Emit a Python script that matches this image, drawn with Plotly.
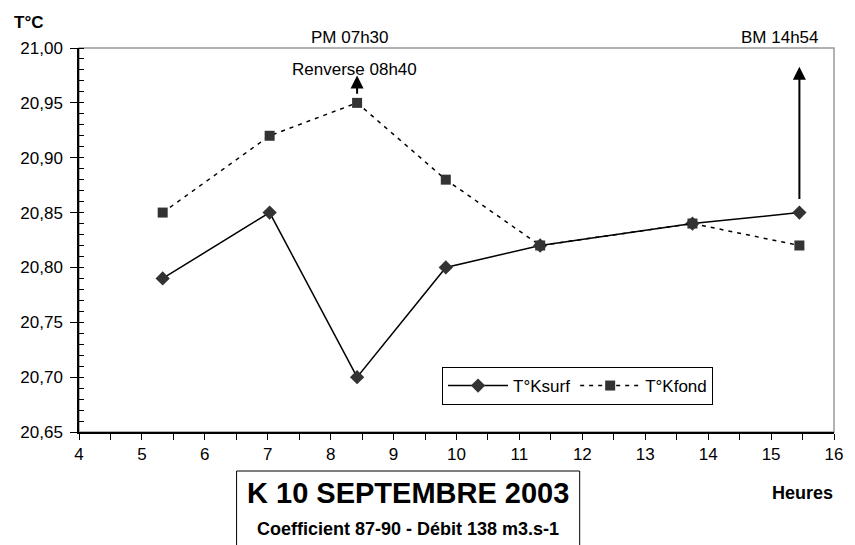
import plotly.graph_objects as go

# Sampling times (decimal hours) and temperatures
heures = [5.33, 7.03, 8.42, 9.83, 11.33, 13.75, 15.45]
t_surf = [20.79, 20.85, 20.70, 20.80, 20.82, 20.84, 20.85]
t_fond = [20.85, 20.92, 20.95, 20.88, 20.82, 20.84, 20.82]

x_ticks = list(range(4, 17))
y_ticks = [20.65, 20.70, 20.75, 20.80, 20.85, 20.90, 20.95, 21.00]

W, H = 855, 545
L, R, T, B = 79, 19, 48, 113
FONT = "Liberation Sans, Arial, sans-serif"


def px(xp):
    return (xp - L) / (W - L - R)


def py(yp):
    return (H - B - yp) / (H - T - B)


fig = go.Figure()

fig.add_trace(go.Scatter(
    x=heures, y=t_surf, name="T°Ksurf", mode="lines+markers",
    line=dict(color="black", width=1.5),
    marker=dict(symbol="diamond", size=11, color="#333333"),
    cliponaxis=False,
))
fig.add_trace(go.Scatter(
    x=heures, y=t_fond, name="T°Kfond", mode="lines+markers",
    line=dict(color="black", width=1.5, dash="4px,5px"),
    marker=dict(symbol="square", size=10, color="#333333"),
    cliponaxis=False,
))

# Plot-area frame (grey), axes drawn on top in black
fig.add_shape(type="rect", xref="paper", yref="paper", x0=0, x1=1, y0=0, y1=1,
              line=dict(color="#999999", width=1.5), layer="below")

# Title box, open at the bottom edge of the page
fig.add_shape(type="rect", xref="paper", yref="paper",
              x0=px(237), x1=px(581), y0=py(560), y1=py(471),
              line=dict(color="black", width=1), fillcolor="white")

# Arrows: slack water and low tide
fig.add_annotation(x=heures[2], y=20.975, ax=heures[2], ay=20.957,
                   xref="x", yref="y", axref="x", ayref="y", text="",
                   showarrow=True, arrowhead=2, arrowsize=1.3, arrowwidth=2,
                   arrowcolor="black")
fig.add_annotation(x=heures[6], y=20.983, ax=heures[6], ay=20.861,
                   xref="x", yref="y", axref="x", ayref="y", text="",
                   showarrow=True, arrowhead=2, arrowsize=1.3, arrowwidth=2,
                   arrowcolor="black")

texts = [
    ("PM 07h30", 351, 38, 17, False),
    ("Renverse 08h40", 355, 69, 17, False),
    ("BM 14h54", 782, 38, 17, False),
    ("T°C", 28, 22, 17, True),
    ("Heures", 804, 493, 18, True),
    ("K 10 SEPTEMBRE 2003", 409, 493, 29, True),
    ("Coefficient 87-90 - Débit 138 m3.s-1", 409, 529, 18, True),
]
for txt, xp, yp, size, bold in texts:
    fig.add_annotation(
        x=px(xp), y=py(yp), xref="paper", yref="paper",
        text=f"<b>{txt}</b>" if bold else txt, showarrow=False,
        xanchor="center", yanchor="middle",
        font=dict(family=FONT, size=size, color="black"),
    )

fig.update_layout(
    width=W, height=H,
    margin=dict(l=L, r=R, t=T, b=B, pad=0),
    paper_bgcolor="white", plot_bgcolor="white",
    separators=", ",
    font=dict(family=FONT, size=17, color="black"),
    showlegend=True,
    legend=dict(
        orientation="h", x=px(443), y=py(367), xanchor="left", yanchor="top",
        bgcolor="white", bordercolor="black", borderwidth=1,
        font=dict(family=FONT, size=17, color="black"),
        itemwidth=60, tracegroupgap=0,
    ),
)

fig.update_xaxes(
    range=[4, 16], tickvals=x_ticks, ticktext=[str(v) for v in x_ticks],
    showgrid=False, zeroline=False,
    showline=True, linecolor="black", linewidth=1.5,
    ticks="outside", ticklen=6, tickwidth=1, tickcolor="black",
    minor=dict(dtick=0.5, tick0=4, ticks="outside", ticklen=6,
               tickcolor="black", showgrid=False),
    tickfont=dict(size=17),
)
fig.update_yaxes(
    range=[20.65, 21.0], tickvals=y_ticks,
    ticktext=[f"{v:.2f}".replace(".", ",") for v in y_ticks],
    showgrid=False, zeroline=False,
    showline=True, linecolor="black", linewidth=1.5,
    ticks="outside", ticklen=7, tickwidth=1, tickcolor="black",
    ticklabelstandoff=4,
    minor=dict(dtick=0.01, tick0=20.65, ticks="inside", ticklen=5,
               tickcolor="black", showgrid=False),
    tickfont=dict(size=17),
)

fig.write_html("out.html")
